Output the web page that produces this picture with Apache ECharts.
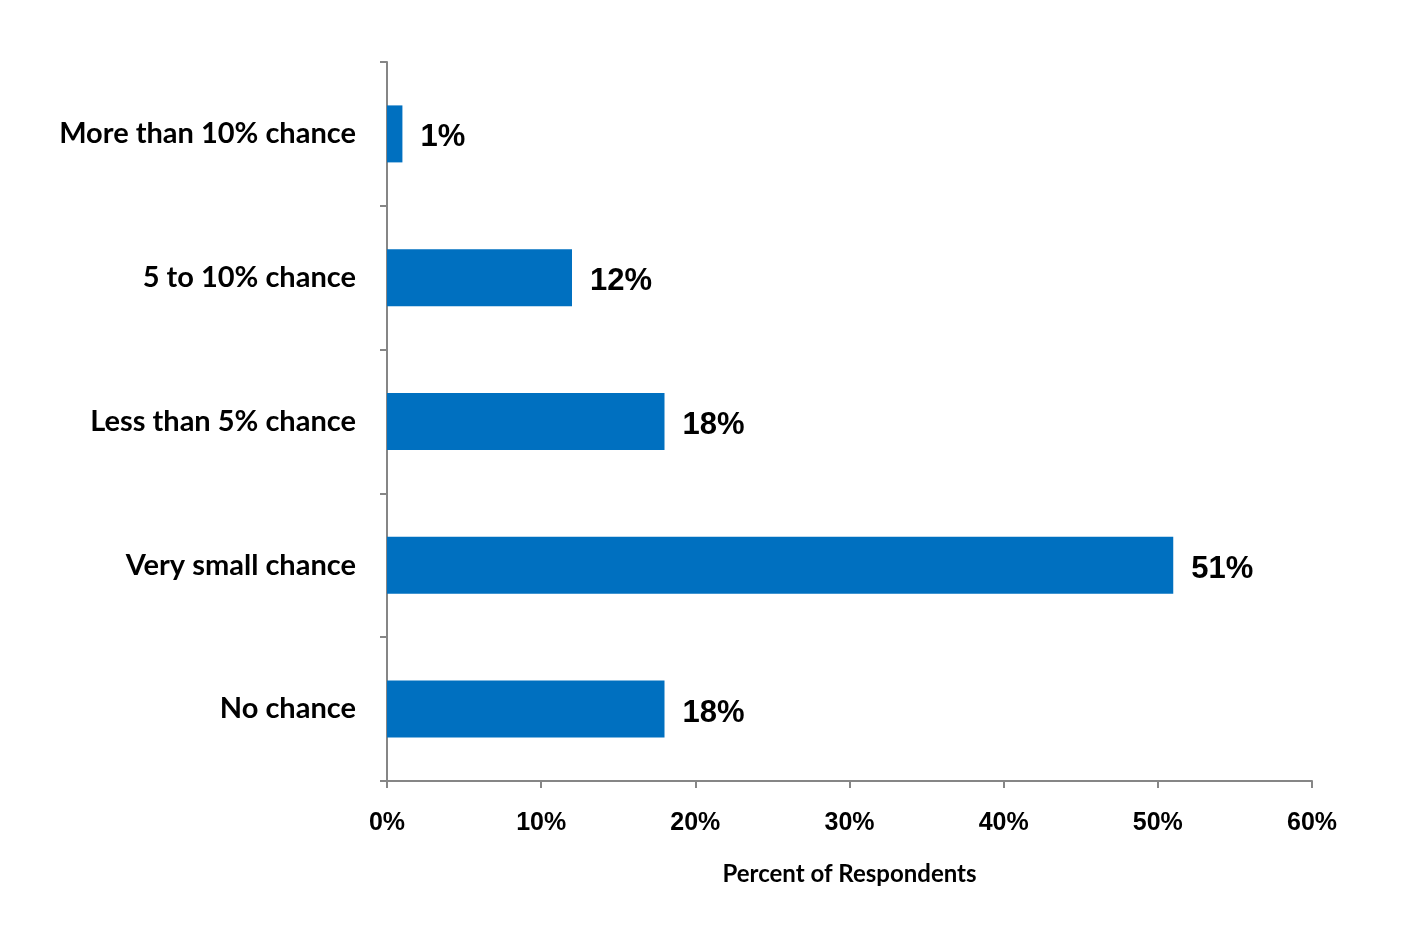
<!DOCTYPE html>
<html>
<head>
<meta charset="utf-8">
<script src="https://cdn.jsdelivr.net/npm/echarts@6/dist/echarts.min.js"></script>
<style>
  html, body { margin: 0; padding: 0; background: #fff; }
  #chart { width: 1412px; height: 932px; }
</style>
</head>
<body>
<div id="chart"></div>
<script>
// categories bottom to top (echarts puts the first one at the bottom)
const categories = ['No chance', 'Very small chance', 'Less than 5% chance', '5 to 10% chance', 'More than 10% chance'];
const percents = [18, 51, 18, 12, 1];
const xTicks = [0, 10, 20, 30, 40, 50, 60];

const myChart = echarts.init(document.getElementById('chart'));

const axisGray = '#868686';

const option = {
  animation: false,
  grid: { left: 387, right: 100, top: 62, bottom: 151, containLabel: false },
  xAxis: {
    type: 'value',
    min: xTicks[0],
    max: xTicks[xTicks.length - 1],
    interval: 10,
    name: 'Percent of Respondents',
    nameLocation: 'middle',
    nameGap: 81,
    nameTextStyle: { fontFamily: 'Lato', fontWeight: 'bold', fontSize: 24, color: '#000' },
    axisLine: { show: true, lineStyle: { color: axisGray, width: 2 } },
    axisTick: { show: true, length: 7, lineStyle: { color: axisGray, width: 2 } },
    splitLine: { show: false },
    axisLabel: {
      margin: 30,
      formatter: '{value}%',
      fontFamily: 'Liberation Sans',
      fontWeight: 'bold',
      fontSize: 25,
      color: '#000'
    }
  },
  yAxis: {
    type: 'category',
    data: categories,
    axisLine: { show: true, lineStyle: { color: axisGray, width: 2 } },
    axisTick: { show: true, length: 7, lineStyle: { color: axisGray, width: 2 } },
    axisLabel: {
      margin: 31,
      fontFamily: 'Lato',
      fontWeight: 'bold',
      fontSize: 29,
      color: '#000'
    }
  },
  series: [{
    type: 'bar',
    data: percents,
    barWidth: 57,
    itemStyle: { color: '#0070C0' },
    label: {
      show: true,
      position: 'right',
      distance: 18,
      offset: [0, 4],
      formatter: '{c}%',
      fontFamily: 'Liberation Sans',
      fontWeight: 'bold',
      fontSize: 31,
      color: '#000'
    }
  }]
};

myChart.setOption(option);
</script>
</body>
</html>
